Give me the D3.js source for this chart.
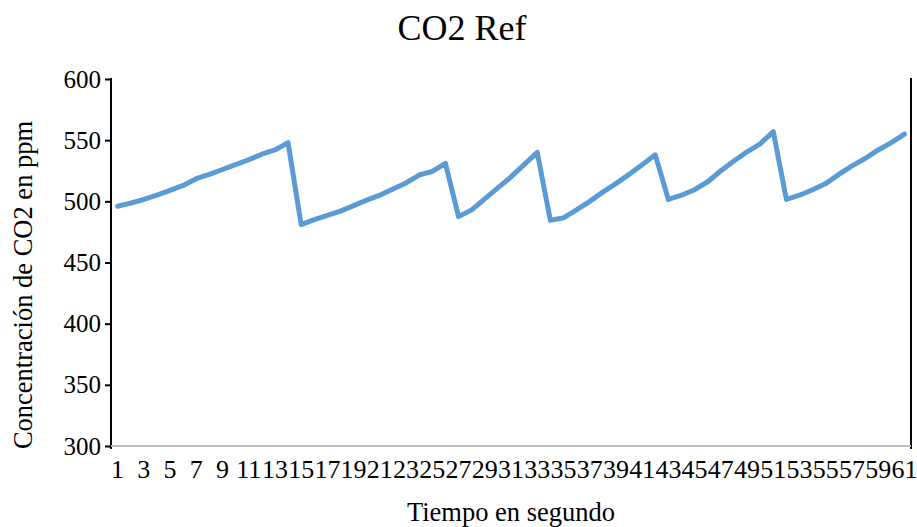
<!DOCTYPE html>
<html><head><meta charset="utf-8">
<script src="https://cdn.jsdelivr.net/npm/d3@7"></script>
<style>body{margin:0;background:#fff}svg{display:block}</style>
</head><body>
<svg id="c" width="917" height="527"></svg>
<script>
const categories = d3.range(1, 62);
const co2 = [496,498.5,501.5,505,509,513,518.5,522,526,530,534,538.5,542,548,
  481,485,488.5,492,496.5,501,505,510,515,521.5,524.5,531,
  487.5,493,502,511,520,530,540,
  484.5,486.5,493,500,507.5,514.5,522,530,538,
  501.5,505,509.5,516,525,533,540.5,547,557,
  501.5,505,509.5,514.5,522,529,535,542,548,555];
const yTicks = [300,350,400,450,500,550,600];
const xLabels = categories.filter(d => d % 2 === 1);

const svg = d3.select("#c");
const L = 111, R = 911, T = 79, B = 446;
const x = d3.scaleBand().domain(categories).range([L, R]);
const y = d3.scaleLinear().domain([300, 600]).range([B, T]);
const font = "'Liberation Serif','Times New Roman',serif";

svg.append("text").attr("x", 462).attr("y", 40).attr("text-anchor", "middle")
  .style("font-family", font).style("font-size", "36px").text("CO2 Ref");

// y axis
const ya = svg.append("g").attr("transform", `translate(${L},0)`)
  .call(d3.axisLeft(y).tickValues(yTicks).tickSize(6).tickPadding(4));
ya.select(".domain").remove();
ya.selectAll("line").attr("stroke", "#000").attr("stroke-width", 2);
ya.selectAll("text").style("font-family", font).style("font-size", "25px").attr("fill", "#000");
svg.append("line").attr("x1", L).attr("x2", L).attr("y1", T - 1).attr("y2", B + 3)
  .attr("stroke", "#000").attr("stroke-width", 2);
svg.append("line").attr("x1", R).attr("x2", R).attr("y1", T - 1).attr("y2", B + 3)
  .attr("stroke", "#000").attr("stroke-width", 2);

// x axis
svg.append("line").attr("x1", L).attr("x2", R).attr("y1", B).attr("y2", B)
  .attr("stroke", "#bfbfbf").attr("stroke-width", 2);
const xa = svg.append("g").attr("transform", `translate(0,${B})`)
  .call(d3.axisBottom(x).tickValues(xLabels).tickSize(0).tickPadding(14));
xa.select(".domain").remove();
xa.selectAll("text").style("font-family", font).style("font-size", "26px").attr("fill", "#000");

svg.append("text").attr("x", 511).attr("y", 521).attr("text-anchor", "middle")
  .style("font-family", font).style("font-size", "26.5px").text("Tiempo en segundo");
svg.append("text").attr("transform", `translate(32,${285}) rotate(-90)`)
  .attr("text-anchor", "middle")
  .style("font-family", font).style("font-size", "26.5px").text("Concentración de CO2 en ppm");

const line = d3.line().x((d, i) => x(categories[i]) + x.bandwidth() / 2).y(d => y(d));
svg.append("path").datum(co2).attr("d", line).attr("fill", "none")
  .attr("stroke", "#5b9bd5").attr("stroke-width", 5)
  .attr("stroke-linejoin", "round").attr("stroke-linecap", "round");
</script>
</body></html>
